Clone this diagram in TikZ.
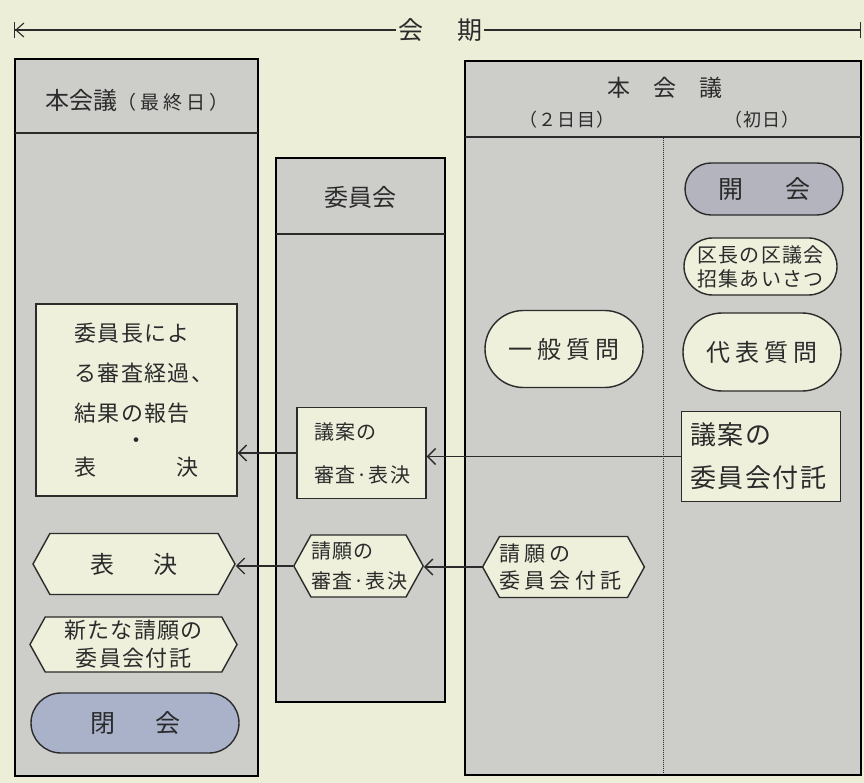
\documentclass[tikz,border=0pt]{standalone}
\usepackage{fontspec}
\setmainfont{Noto Sans CJK JP}
\newfontfamily\jpS{Noto Sans CJK JP}[LetterSpace=6]
\newfontfamily\jpW{Noto Sans CJK JP}[LetterSpace=20]
\usetikzlibrary{arrows.meta,shapes.misc,shapes.symbols}
\definecolor{bgc}{HTML}{ECEED8}
\definecolor{panelc}{HTML}{CDCDCA}
\definecolor{cream}{HTML}{EEF0DC}
\definecolor{ink}{HTML}{2B2B2B}
\definecolor{openc}{HTML}{B3B4BE}
\definecolor{closec}{HTML}{AAB2CA}
\tikzset{
  txt/.style={text=ink, inner sep=2pt},
  panel/.style={draw=black, line width=2.2pt, fill=panelc},
  hline/.style={draw=ink, line width=1.6pt},
  ibox/.style={draw=ink, line width=1.4pt, fill=cream, inner sep=0pt, text=ink},
  pill/.style={rounded rectangle, draw=ink, line width=1.4pt, fill=cream, inner sep=0pt, text=ink},
  hexa/.style={signal, signal to=east and west, signal pointer angle=122, draw=ink, line width=1.4pt, fill=cream, inner sep=0pt, text=ink},
  arr/.style={draw=ink, line width=1.3pt, -{Straight Barb[length=8pt,width=16pt]}},
}
\begin{document}
\begin{tikzpicture}[x=1pt,y=-1pt]
\useasboundingbox (0,0) rectangle (864,783);
\fill[bgc] (0,0) rectangle (864,783);

% period arrow
\coordinate (kL) at (14,30);
\coordinate (kR) at (861,30);
\node[txt, font=\fontsize{25pt}{30pt}\selectfont] (kaiki) at (440,30) {会\hspace{34pt}期};
\draw[ink, line width=1.1pt, {Bar[width=16pt]Straight Barb[length=8pt,width=14pt]}-] (kL) -- (kaiki.west);
\draw[ink, line width=1.1pt, -{Bar[width=16pt]}] (kaiki.east) -- (kR);

% panels
\draw[panel] (15,59) rectangle (258,776);
\draw[hline] (15,133) -- (258,133);
\draw[panel] (276,158) rectangle (445,702);
\draw[hline] (276,234) -- (445,234);
\draw[panel] (465,61) rectangle (861,775);
\draw[hline] (465,137) -- (861,137);
\draw[ink, line width=1pt, densely dotted] (663,138) -- (663,774);

% headers
\node[txt, font=\fontsize{24pt}{28pt}\selectfont] (h1) at (137,100) {本会議{\jpW\fontsize{19pt}{24pt}\selectfont （最終日）}};
\node[txt, font=\fontsize{24pt}{28pt}\selectfont] (h2) at (360,197) {委員会};
\node[txt, font=\fontsize{23pt}{28pt}\selectfont] (h3) at (665,88) {本\quad 会\quad 議};
\node[txt, font=\jpS\fontsize{18pt}{22pt}\selectfont] (h3a) at (567,120) {（２日目）};
\node[txt, font=\jpS\fontsize{18pt}{22pt}\selectfont] (h3b) at (762,120) {（初日）};

% left panel
\node[ibox, text width=124pt, align=left, minimum width=201pt, minimum height=192pt,
      font=\jpS\fontsize{22pt}{27pt}\selectfont] (rep) at (136.5,400)
  {委員長によ\\[13pt]る審査経過、\\[13pt]結果の報告\\\makebox[124pt]{・}\\表\hfill 決};
\node[hexa, minimum width=202pt, minimum height=61pt, font=\fontsize{24pt}{28pt}\selectfont] (vote) at (134,564) {表\hspace{40pt}決};
\node[hexa, minimum width=207pt, minimum height=55pt, align=center, font=\jpS\fontsize{22pt}{28pt}\selectfont] (newp) at (133.5,644.5) {新たな請願の\\委員会付託};
\node[pill, fill=closec, minimum width=208pt, minimum height=60pt, font=\fontsize{25pt}{30pt}\selectfont] (close) at (135,723) {閉\hspace{40pt}会};

% committee
\node[ibox, text width=95pt, align=left, minimum width=129pt, minimum height=91pt,
      font=\jpS\fontsize{20pt}{43pt}\selectfont] (cbill) at (361.5,453) {議案の\\審査·表決};
\node[hexa, minimum width=127pt, minimum height=62pt, text width=95pt, align=left,
      font=\jpS\fontsize{20pt}{30pt}\selectfont] (cpet) at (358.5,566) {請願の\\審査·表決};

% right panel
\node[pill, fill=openc, minimum width=158pt, minimum height=52pt, font=\fontsize{25pt}{30pt}\selectfont] (open) at (764,189) {開\hspace{42pt}会};
\node[pill, minimum width=153pt, minimum height=57pt, align=center, font=\jpS\fontsize{20pt}{24pt}\selectfont] (greet) at (760.5,266.5) {区長の区議会\\招集あいさつ};
\node[pill, minimum width=158pt, minimum height=77pt, font=\jpW\fontsize{24pt}{28pt}\selectfont] (gen) at (564,349) {一般質問};
\node[pill, minimum width=158pt, minimum height=78pt, font=\jpW\fontsize{24pt}{28pt}\selectfont] (rep2) at (762,352) {代表質問};
\node[ibox, text width=142pt, align=left, minimum width=159pt, minimum height=90pt,
      font=\jpS\fontsize{26pt}{43pt}\selectfont] (rbill) at (761,456.5) {議案の\\委員会付託};
\node[hexa, minimum width=158pt, minimum height=61pt, text width=128pt, align=left,
      font=\jpW\fontsize{21pt}{27pt}\selectfont] (rpet) at (563.5,567) {請願の\\委員会付託};

% connectors
\draw[arr] (rbill.west) -- (rbill.west -| cbill.east);
\draw[arr] (cbill.west) -- (cbill.west -| rep.east);
\draw[arr] (rpet.west) -- (rpet.west -| cpet.east);
\draw[arr] (cpet.west) -- (cpet.west -| vote.east);
\end{tikzpicture}
\end{document}
